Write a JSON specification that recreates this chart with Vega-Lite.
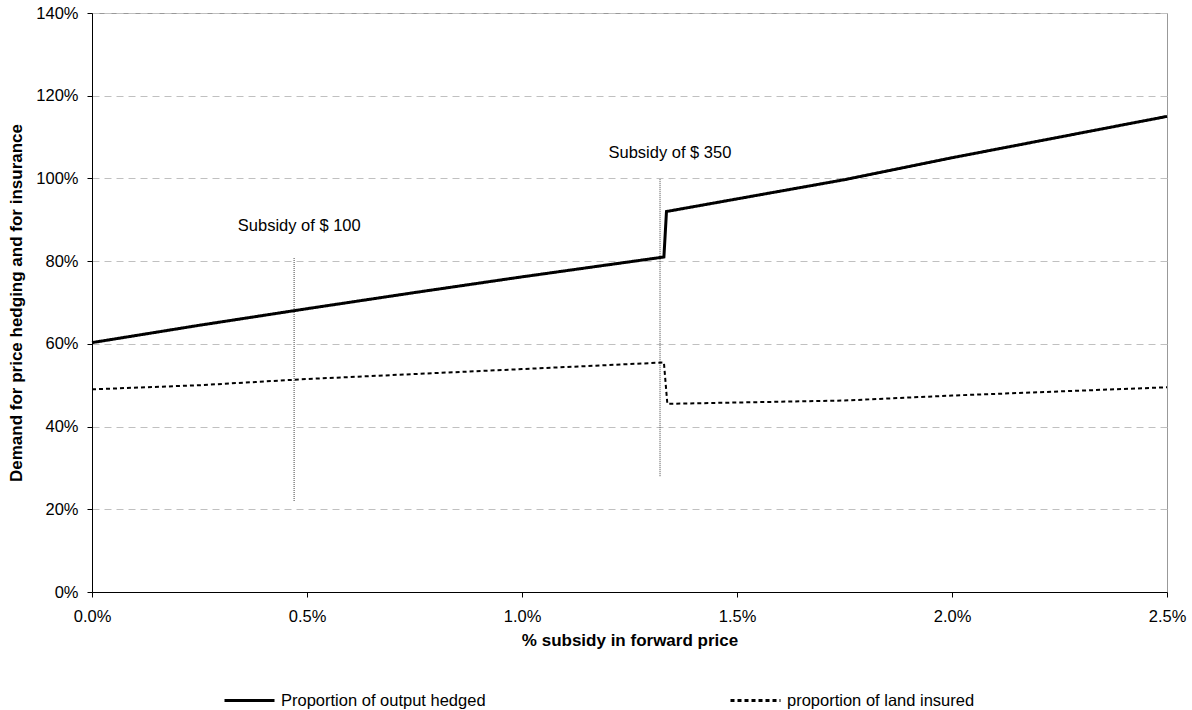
{
  "$schema": "https://vega.github.io/schema/vega-lite/v6.json",
  "autosize": {"type": "none"},
  "width": 1075,
  "height": 579,
  "padding": {"left": 92, "top": 13, "right": 25, "bottom": 118},
  "background": "white",
  "config": {
    "font": "Liberation Sans",
    "view": {"stroke": "#999999", "strokeWidth": 1},
    "axis": {
      "labelFont": "Liberation Sans",
      "labelFontSize": 16.5,
      "labelColor": "#000000",
      "labelFlush": false,
      "titleFont": "Liberation Sans",
      "titleFontSize": 17,
      "titleFontWeight": "bold",
      "titleColor": "#000000",
      "domainColor": "#000000",
      "tickColor": "#000000",
      "tickSize": 5
    },
    "legend": {
      "labelFont": "Liberation Sans",
      "labelFontSize": 16.5,
      "labelColor": "#000000"
    }
  },
  "datasets": {
    "lines": [
      {"x": 0.0, "v": 0.603, "series": "Proportion of output hedged"},
      {"x": 0.0025, "v": 0.645, "series": "Proportion of output hedged"},
      {"x": 0.005, "v": 0.685, "series": "Proportion of output hedged"},
      {"x": 0.0075, "v": 0.724, "series": "Proportion of output hedged"},
      {"x": 0.01, "v": 0.762, "series": "Proportion of output hedged"},
      {"x": 0.0133, "v": 0.81, "series": "Proportion of output hedged"},
      {"x": 0.01336, "v": 0.92, "series": "Proportion of output hedged"},
      {"x": 0.0175, "v": 0.997, "series": "Proportion of output hedged"},
      {"x": 0.02, "v": 1.05, "series": "Proportion of output hedged"},
      {"x": 0.025, "v": 1.15, "series": "Proportion of output hedged"},
      {"x": 0.0, "v": 0.49, "series": "proportion of land insured"},
      {"x": 0.0025, "v": 0.5, "series": "proportion of land insured"},
      {"x": 0.005, "v": 0.515, "series": "proportion of land insured"},
      {"x": 0.0075, "v": 0.527, "series": "proportion of land insured"},
      {"x": 0.01, "v": 0.539, "series": "proportion of land insured"},
      {"x": 0.0133, "v": 0.555, "series": "proportion of land insured"},
      {"x": 0.01338, "v": 0.455, "series": "proportion of land insured"},
      {"x": 0.0175, "v": 0.463, "series": "proportion of land insured"},
      {"x": 0.02, "v": 0.475, "series": "proportion of land insured"},
      {"x": 0.025, "v": 0.495, "series": "proportion of land insured"}
    ],
    "rules": [
      {"x": 0.0047, "y": 0.22, "y2": 0.81},
      {"x": 0.01321, "y": 0.28, "y2": 1.0}
    ],
    "labels": [
      {"x": 0.00482, "y": 0.885, "text": "Subsidy of $ 100"},
      {"x": 0.01344, "y": 1.061, "text": "Subsidy of $ 350"}
    ]
  },
  "layer": [
    {
      "data": {"name": "rules"},
      "mark": {"type": "rule", "color": "#444444", "strokeWidth": 1, "strokeDash": [1, 1]},
      "encoding": {
        "x": {"field": "x", "type": "quantitative", "scale": {"domain": [0, 0.025], "nice": false},
          "axis": {"values": [0, 0.005, 0.01, 0.015, 0.02, 0.025], "format": ".1%", "grid": false, "title": "% subsidy in forward price", "labelPadding": 11, "titlePadding": 8}},
        "y": {"field": "y", "type": "quantitative", "scale": {"domain": [0, 1.4], "nice": false},
          "axis": {"values": [0, 0.2, 0.4, 0.6, 0.8, 1.0, 1.2, 1.4], "format": ".0%", "grid": true, "gridColor": "#c0c0c0", "gridDash": [7, 5], "title": "Demand for price hedging and for insurance", "labelPadding": 9, "titlePadding": 10}},
        "y2": {"field": "y2"}
      }
    },
    {
      "data": {"name": "lines"},
      "transform": [{"filter": "datum.series === 'Proportion of output hedged'"}],
      "mark": {"type": "line", "color": "#000000", "strokeWidth": 3},
      "encoding": {
        "x": {"field": "x", "type": "quantitative"},
        "y": {"field": "v", "type": "quantitative"},
        "order": {"field": "x", "type": "quantitative"},
        "strokeDash": {"field": "series", "type": "nominal",
          "scale": {"domain": ["Proportion of output hedged", "proportion of land insured"], "range": [[1, 0], [4, 3]]},
          "legend": {"title": null, "orient": "none", "legendX": 131, "legendY": 661, "direction": "horizontal", "columns": 2, "columnPadding": 238, "symbolType": "stroke", "symbolSize": 2500, "symbolStrokeWidth": 3, "symbolStrokeColor": "#000000", "labelOffset": 5, "labelLimit": 400}}
      }
    },
    {
      "data": {"name": "lines"},
      "transform": [{"filter": "datum.series === 'proportion of land insured'"}],
      "mark": {"type": "line", "color": "#000000", "strokeWidth": 2},
      "encoding": {
        "x": {"field": "x", "type": "quantitative"},
        "y": {"field": "v", "type": "quantitative"},
        "order": {"field": "x", "type": "quantitative"},
        "strokeDash": {"field": "series", "type": "nominal"}
      }
    },
    {
      "data": {"name": "labels"},
      "mark": {"type": "text", "fontSize": 16.5, "color": "#000000", "font": "Liberation Sans"},
      "encoding": {
        "x": {"field": "x", "type": "quantitative"},
        "y": {"field": "y", "type": "quantitative"},
        "text": {"field": "text"}
      }
    }
  ]
}
